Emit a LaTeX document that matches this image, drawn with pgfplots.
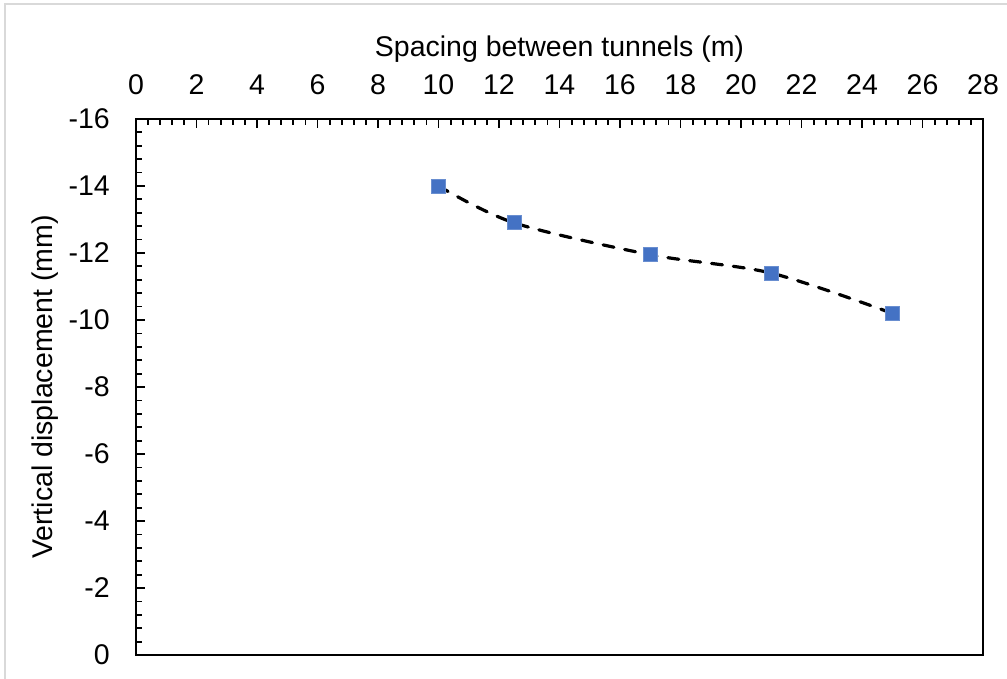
\documentclass[border=0pt]{standalone}
\usepackage{fontspec}
\setmainfont{Liberation Sans}
\usepackage{pgfplots}
\pgfplotsset{compat=1.18}
\definecolor{markblue}{HTML}{4472C4}
\definecolor{framegray}{HTML}{D9D9D9}

\begin{document}
\fontsize{28.5}{34}\selectfont
\begin{tikzpicture}
\begin{axis}[
    scale only axis,
    width=847pt, height=536pt,
    xmin=0, xmax=28,
    ymin=-16, ymax=0,
    y dir=reverse,
    xtick distance=2, ytick distance=2,
    minor x tick num=4, minor y tick num=4,
    tick align=inside,
    xtick pos=top, ytick pos=left,
    xticklabel pos=top,
    major tick length=9pt, minor tick length=6pt,
    axis line style={line width=2pt},
    every tick/.style={line width=1.8pt, black},
    /pgf/number format/assume math mode=true,
    tick label style={font=\fontsize{28.5}{34}\selectfont, inner sep=0pt},
    xticklabel shift=24pt,
    yticklabel shift=26pt,
    label style={font=\fontsize{28.5}{34}\selectfont, inner sep=0pt},
    xlabel={Spacing between tunnels (m)},
    ylabel={Vertical displacement (mm)},
    xlabel style={at={(axis description cs:0.5,1)}, anchor=base, yshift=62pt},
    ylabel style={at={(axis description cs:-0.098,0.5)}, anchor=base},
]
\addplot[black, line width=3.2pt, dash pattern=on 11pt off 11pt, line cap=round,
    smooth, mark=square*, mark size=7pt,
    mark options={solid, fill=markblue, draw=markblue!80!white, line width=0.8pt}]
    coordinates {
    (10,-14.0) (12.5,-12.9) (17,-11.95) (21,-11.4) (25,-10.2)
};
\end{axis}
\pgfresetboundingbox
\path[use as bounding box] ([shift={(-136pt,-24pt)}]current axis.south west)
    rectangle ([shift={(24pt,119pt)}]current axis.north east);
\draw[framegray, line width=2pt] ([shift={(-131pt,-40pt)}]current axis.south west)
    |- ([shift={(40pt,115pt)}]current axis.north east);
\end{tikzpicture}
\end{document}
